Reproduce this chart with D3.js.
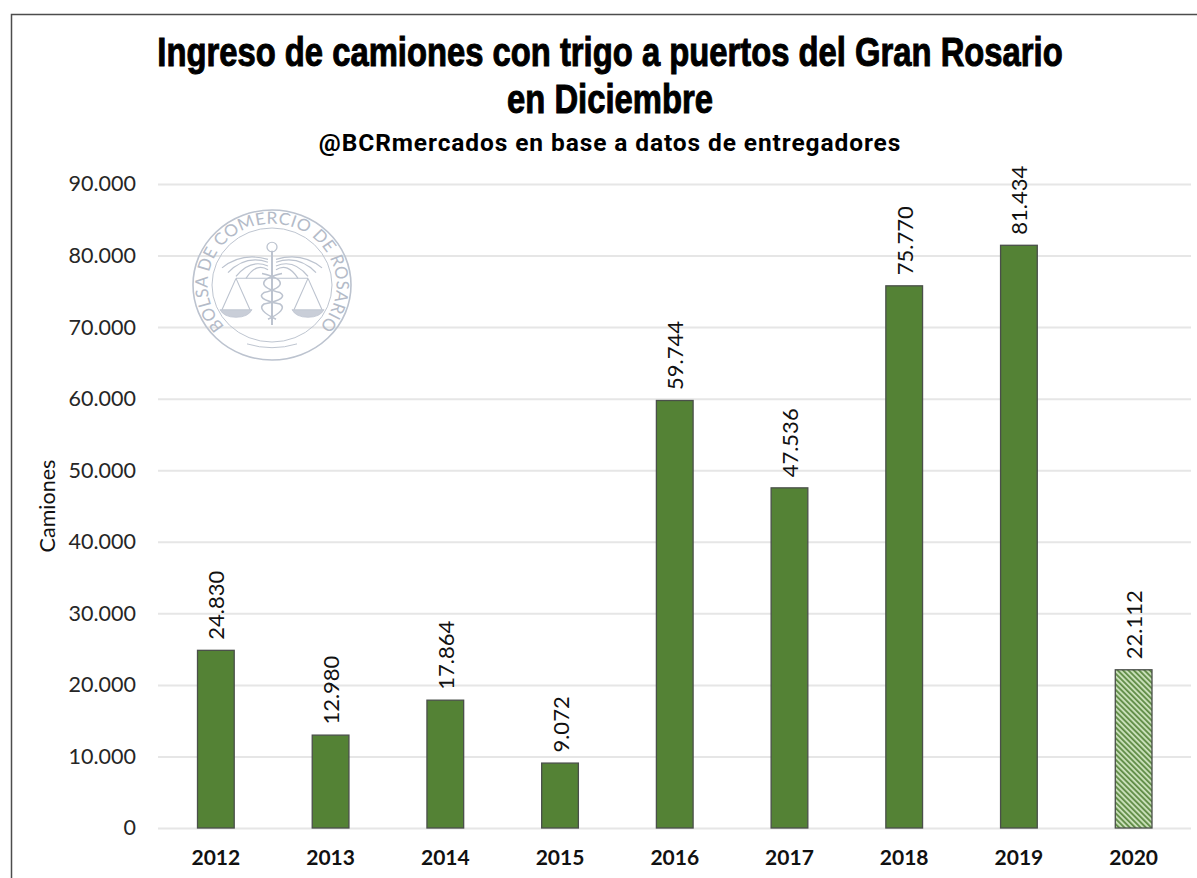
<!DOCTYPE html>
<html><head><meta charset="utf-8">
<script src="https://cdn.jsdelivr.net/npm/d3@7"></script>
<style>html,body{margin:0;padding:0;background:#fff}svg{display:block}</style></head>
<body><svg id="c" width="1197" height="878"></svg>
<script>
const years=["2012","2013","2014","2015","2016","2017","2018","2019","2020"];
const camiones=[24830,12980,17864,9072,59744,47536,75770,81434,22112];
const labels=["24.830","12.980","17.864","9.072","59.744","47.536","75.770","81.434","22.112"];
const yTicks=[0,10000,20000,30000,40000,50000,60000,70000,80000,90000];
const provisional=["2020"];
const titleLines=["Ingreso de camiones con trigo a puertos del Gran Rosario","en Diciembre"];
const subtitle="@BCRmercados en base a datos de entregadores";
const yTitle="Camiones";

const svg=d3.select("#c");
const W=1197,H=878;
const x=d3.scaleBand().domain(years).range([158.5,1191]).paddingInner(0.68).paddingOuter(0.34);
const y=d3.scaleLinear().domain([0,90000]).range([828,184]);
const fmt=d=>d3.format(",")(d).replace(/,/g,".");

const defs=svg.append("defs");
const p=defs.append("pattern").attr("id","hatch").attr("width",3.8).attr("height",3.8)
  .attr("patternUnits","userSpaceOnUse").attr("patternTransform","rotate(-45)");
p.append("rect").attr("width",3.8).attr("height",3.8).attr("fill","#c8dfb8");
p.append("rect").attr("width",1.8).attr("height",3.8).attr("fill","#5f8c45");

svg.append("path").attr("d",`M11.5,${H}V14.5H${W}`).attr("fill","none").attr("stroke","#4d4d4d").attr("stroke-width",1.5);

const yAxis=d3.axisLeft(y).tickValues(yTicks).tickFormat(fmt).tickSize(0).tickPadding(22);
const gy=svg.append("g").attr("transform","translate(158,0)").call(yAxis);
gy.select(".domain").remove();
gy.selectAll("text").attr("font-family","Lato, sans-serif").attr("font-size",21.5).attr("fill","#262626");
gy.selectAll(".tick").append("line").attr("x1",0).attr("x2",1033).attr("stroke","#e6e6e6").attr("stroke-width",2);

// seal
const seal=svg.append("g").attr("transform","translate(272,285) scale(1,.95)").attr("fill","none").attr("stroke","#bcc3cf");
seal.append("circle").attr("r",79).attr("stroke-width",1.6);
seal.append("circle").attr("r",60).attr("stroke-width",1);
defs.append("path").attr("id","sealArc").attr("d","M-44,47A64.4,64.4 0 1 1 44,47");
seal.append("text").attr("font-family","Lato, sans-serif").attr("font-size",17.5).attr("fill","#b4bbc8").attr("stroke","none")
  .append("textPath").attr("href","#sealArc").attr("startOffset","50%").attr("text-anchor","middle").attr("textLength",298).text("BOLSA DE COMERCIO DE ROSARIO");
[-1,1].forEach(s=>{
  const w=seal.append("g").attr("transform",`scale(${s},1)`).attr("stroke-width",1.2);
  [[-27,50,-18],[-24,44,-13],[-20,36,-9],[-16,26,-7]].forEach(a=>w.append("path").attr("d",`M4,${a[0]}Q${a[1]*0.6},${a[0]-8} ${a[1]},${a[2]}`));
  w.append("path").attr("d","M0,-7H36M36,-7L22,26M36,-7L50,26").attr("stroke-width",1.1);
  w.append("path").attr("d","M20,26H52Q48,34 36,34Q24,34 20,26Z").attr("fill","#c9ced8").attr("stroke-width",.8);
});
seal.append("path").attr("d","M0,-36V42").attr("stroke-width",2);
seal.append("circle").attr("cy",-40).attr("r",5).attr("stroke-width",1.3);
seal.append("path").attr("d","M-10,-12C14,-6 14,2 -8,8C-14,12 -10,16 8,20C14,24 8,30 -4,36M10,-12C-14,-6 -14,2 8,8C14,12 10,16 -8,20C-14,24 -8,30 4,36").attr("stroke-width",1.6);
seal.append("path").attr("d","M-25,62Q0,70 25,62").attr("stroke-width",1);

const isProv=d=>provisional.includes(d.year);
const rows=years.map((year,i)=>({year,value:camiones[i],label:labels[i]}));
svg.append("g").selectAll("rect").data(rows).join("rect")
  .attr("x",d=>x(d.year)).attr("width",x.bandwidth())
  .attr("y",d=>y(d.value)).attr("height",d=>y(0)-y(d.value))
  .attr("fill",d=>isProv(d)?"url(#hatch)":"#548235")
  .attr("stroke","#4a4f4a").attr("stroke-width",1.3);

svg.append("g").selectAll("text").data(rows).join("text")
  .attr("transform",d=>`translate(${x(d.year)+x.bandwidth()/2+8.5},${y(d.value)-10.5}) rotate(-90)`)
  .attr("font-family","Lato, sans-serif").attr("font-size",22).attr("fill","#111").text(d=>d.label);

const xAxis=d3.axisBottom(x).tickSize(0).tickPadding(22);
const gx=svg.append("g").attr("transform","translate(0,828)").call(xAxis);
gx.select(".domain").remove();
gx.selectAll("text").attr("font-family","Lato, sans-serif").attr("font-weight",700).attr("font-size",21).attr("fill","#111");

svg.append("text").attr("transform","translate(55,506) rotate(-90)").attr("text-anchor","middle")
  .attr("font-family","Lato, sans-serif").attr("font-size",21.5).attr("fill","#111").text(yTitle);

svg.append("g").selectAll("text").data(titleLines).join("text")
  .attr("transform",(d,i)=>`translate(610,${66+i*47}) scale(.82,1)`).attr("text-anchor","middle")
  .attr("font-family","'Liberation Sans',sans-serif").attr("font-weight",700).attr("font-size",40)
  .attr("stroke","#000").attr("stroke-width",1).attr("fill","#000").text(d=>d);
svg.append("text").attr("x",610).attr("y",151).attr("text-anchor","middle")
  .attr("font-family","Roboto, sans-serif").attr("font-weight",700).attr("font-size",24.5).attr("letter-spacing",.9).attr("fill","#000").text(subtitle);
</script></body></html>
